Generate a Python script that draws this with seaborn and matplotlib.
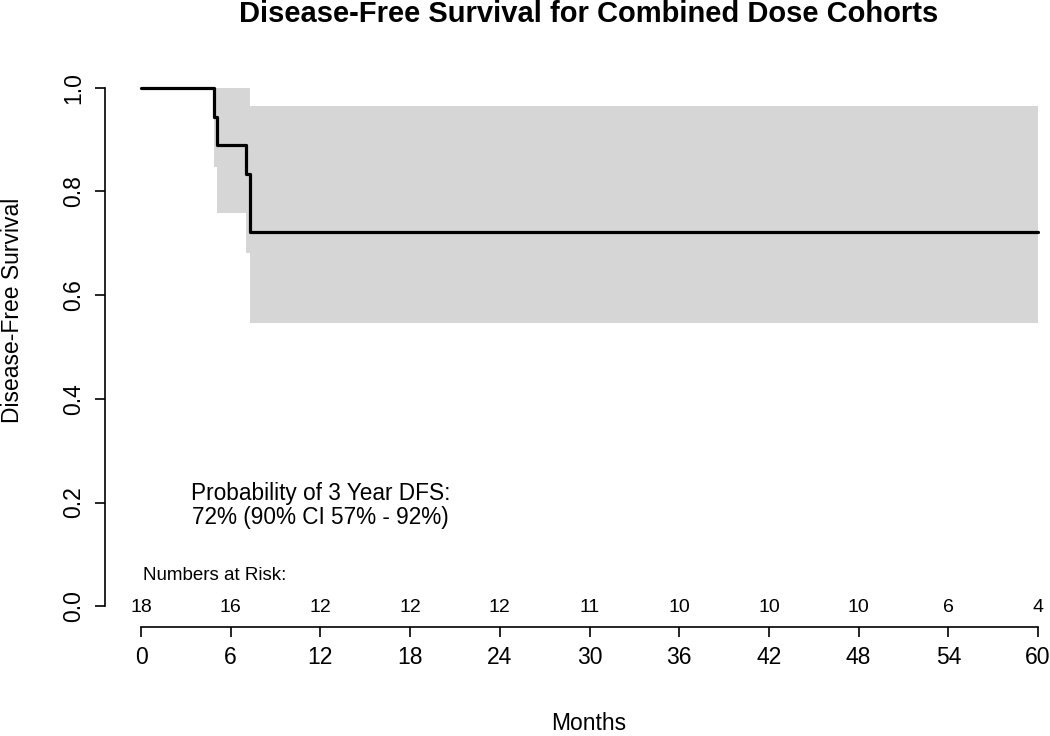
import matplotlib
matplotlib.use("Agg")
import matplotlib.pyplot as plt
import seaborn as sns
import pandas as pd

# Kaplan-Meier estimate
times = [0.0, 4.85, 5.06, 7.0, 7.3, 60.0]
surv = [1.0, 0.944, 0.889, 0.833, 0.722, 0.722]
ci_upper = [1.0, 1.0, 1.0, 1.0, 0.965, 0.965]
ci_lower = [1.0, 0.847, 0.759, 0.681, 0.546, 0.546]

# numbers at risk
risk_months = [0, 6, 12, 18, 24, 30, 36, 42, 48, 54, 60]
risk_counts = [18, 16, 12, 12, 12, 11, 10, 10, 10, 6, 4]

y_ticks = [0.0, 0.2, 0.4, 0.6, 0.8, 1.0]

sns.set_theme(style="white")
plt.rcParams["font.family"] = ["Liberation Sans", "DejaVu Sans"]
plt.rcParams["text.color"] = "black"
plt.rcParams["xtick.color"] = "black"
plt.rcParams["ytick.color"] = "black"

W, H = 1050, 736
fig = plt.figure(figsize=(W / 100, H / 100), dpi=100)
# plot region in pixels (R-style 4% padding)
left, right, top, bottom = 105, 1050, 67, 627
ax = fig.add_axes([left / W, 1 - bottom / H, (right - left) / W, (bottom - top) / H])

df = pd.DataFrame({"Months": times, "DFS": surv})
ax.fill_between(times, ci_lower, ci_upper, step="post", color="#d6d6d6", linewidth=0)
sns.lineplot(data=df, x="Months", y="DFS", drawstyle="steps-post",
             color="black", linewidth=2.3, ax=ax)

ax.set_xlim(-2.41, 60.8)
ax.set_ylim(-0.04, 1.04)

for s in ["top", "right"]:
    ax.spines[s].set_visible(False)
for s in ["left", "bottom"]:
    ax.spines[s].set_color("black")
    ax.spines[s].set_linewidth(1.2)
ax.spines["left"].set_bounds(0, 1)
ax.spines["bottom"].set_bounds(0, 60)

ax.set_xticks(risk_months)
ax.set_yticks(y_ticks)
ax.set_yticklabels([f"{v:.1f}" for v in y_ticks], rotation=90, va="center")
ax.tick_params(axis="both", direction="out", length=7, width=1.2, color="black",
               labelcolor="black", labelsize=16.5, pad=7, left=True, bottom=True)
ax.set_xlabel("")
ax.set_ylabel("")

# numbers at risk
ax.text(0.1, 0.06, "Numbers at Risk:", fontsize=13.5, ha="left", va="center")
for m, n in zip(risk_months, risk_counts):
    ax.text(m, -0.003, str(n), fontsize=14, ha="center", va="center")

ax.text(12.0, 0.195, "Probability of 3 Year DFS:\n72% (90% CI 57% - 92%)",
        fontsize=16.3, ha="center", va="center", linespacing=1.05)

fig.text(589 / W, 1 - 14 / H, "Disease-Free Survival for Combined Dose Cohorts",
         fontsize=21, fontweight="bold", ha="center", va="center")
fig.text(589 / W, 1 - 724 / H, "Months", fontsize=16.5, ha="center", va="center")
fig.text(13 / W, 1 - 310 / H, "Disease-Free Survival", fontsize=16.5,
         rotation=90, ha="center", va="center")

fig.savefig("out.png", dpi=100)
